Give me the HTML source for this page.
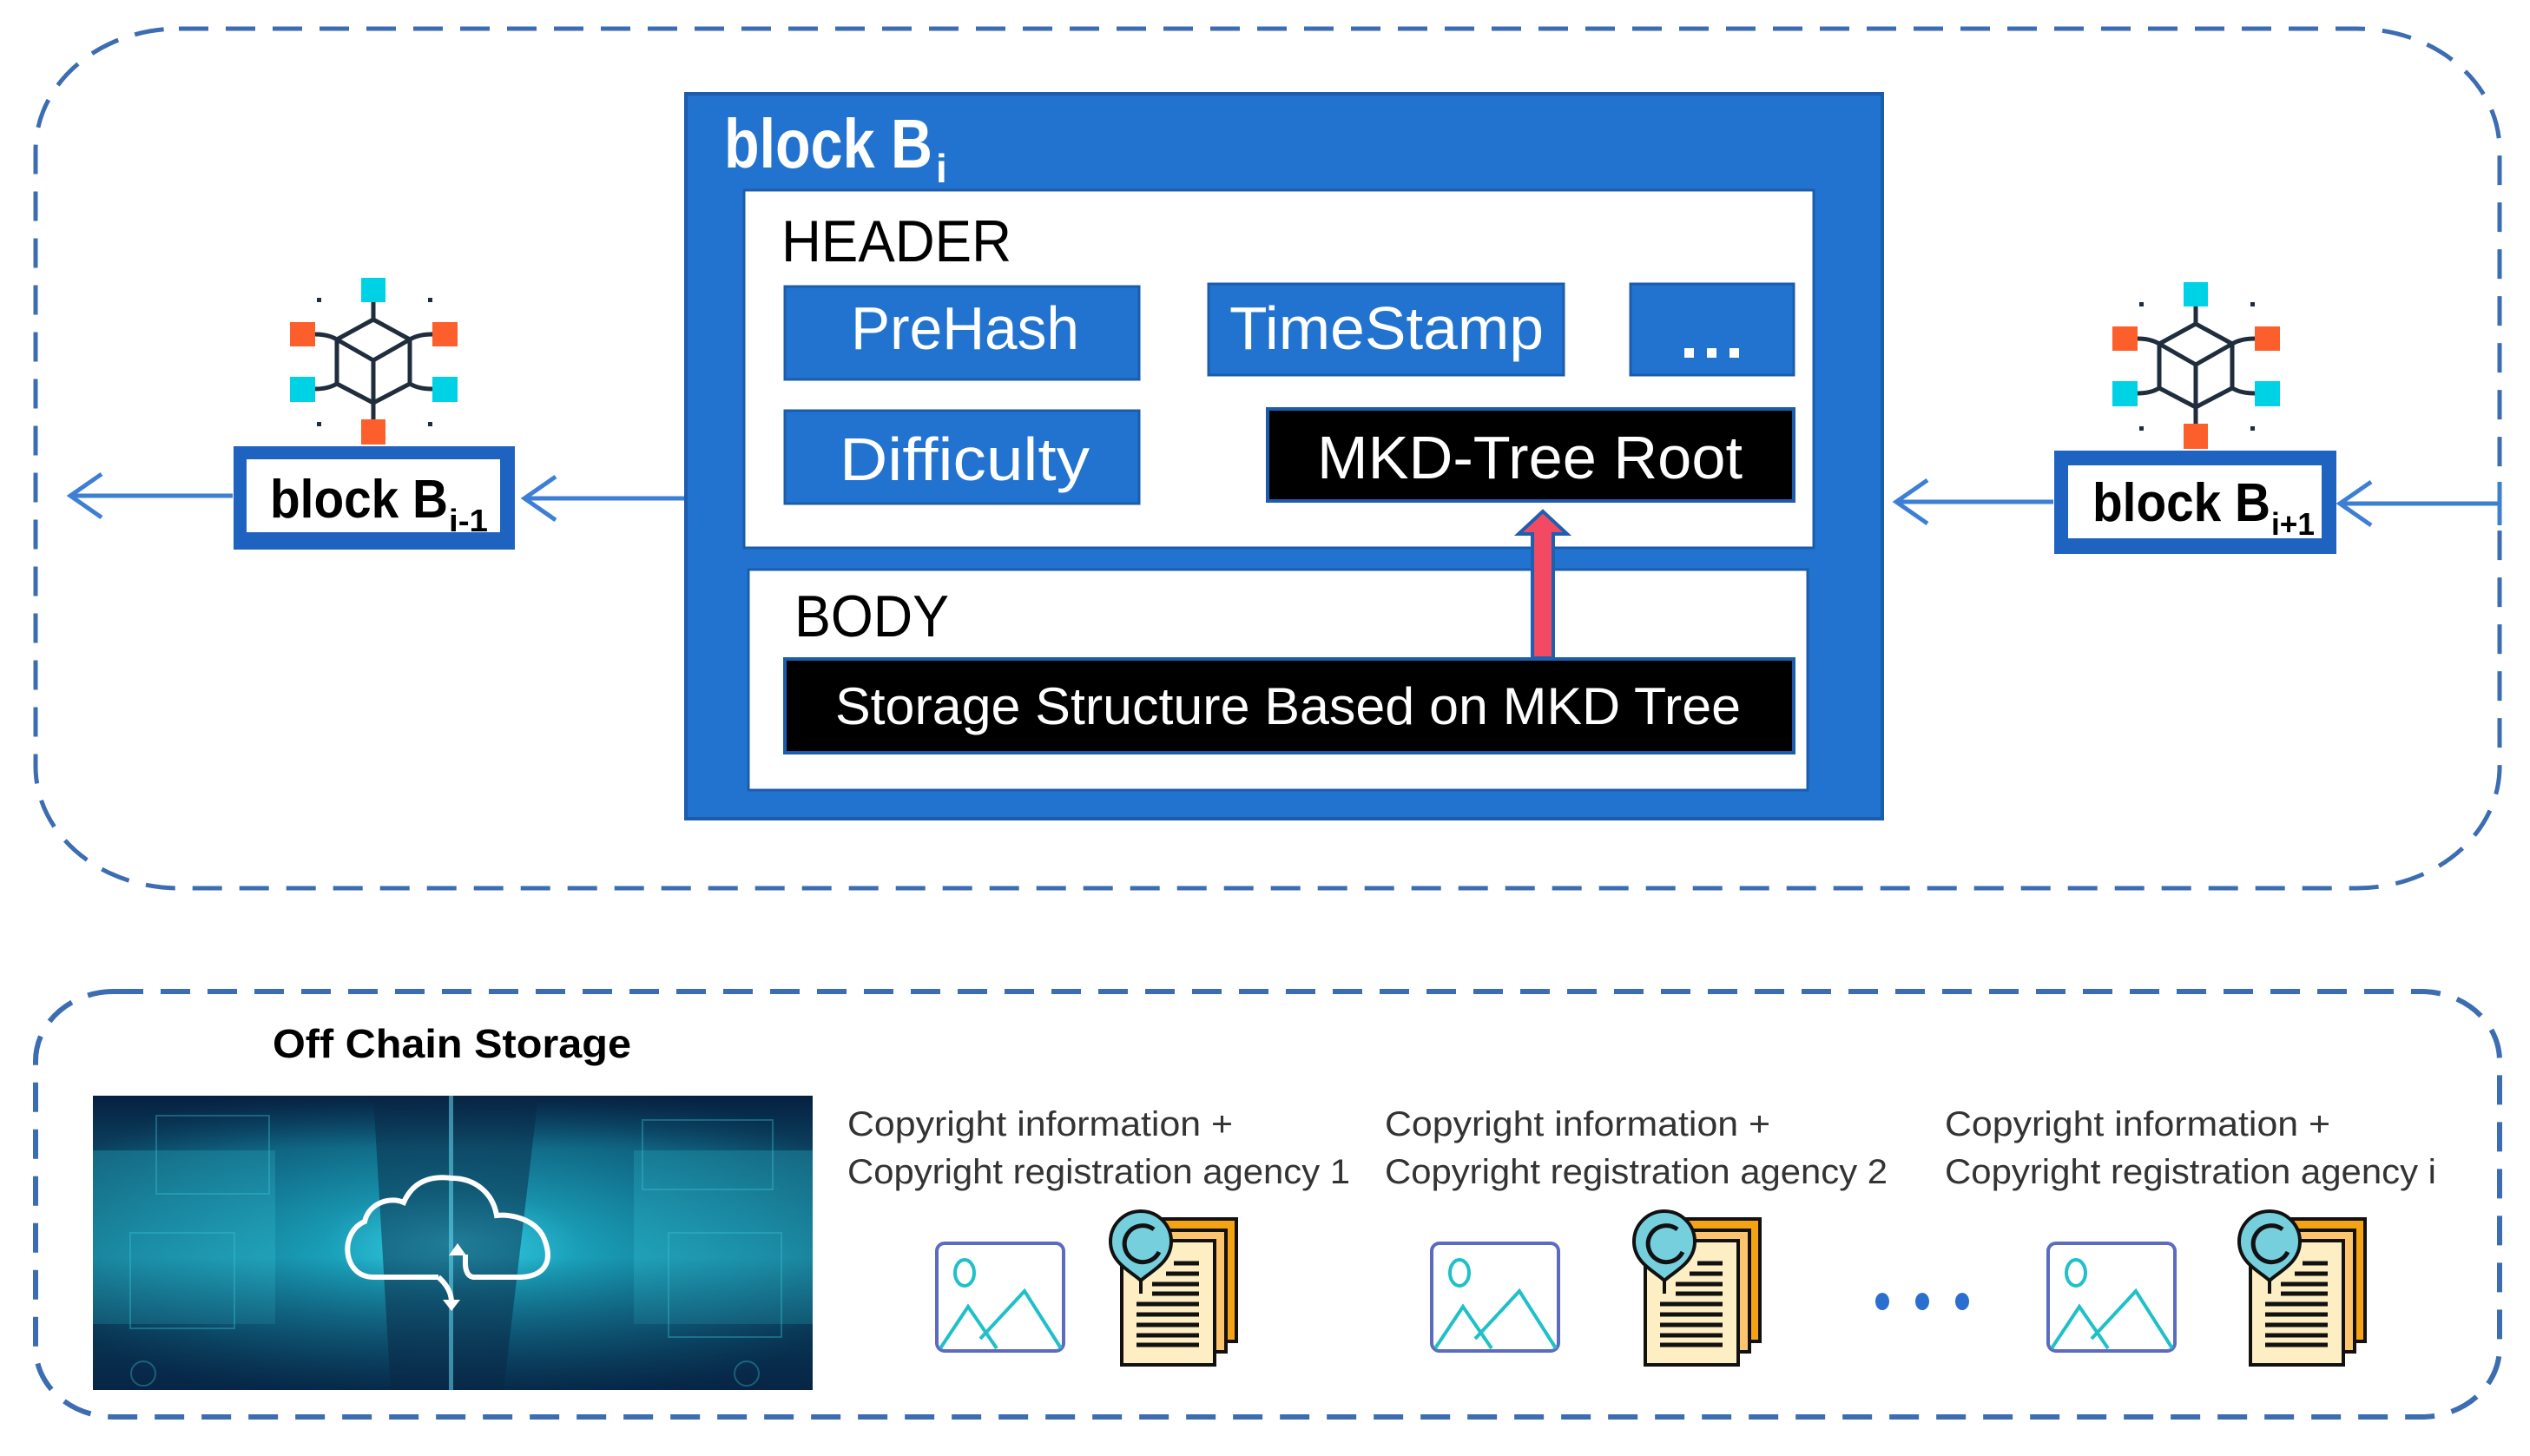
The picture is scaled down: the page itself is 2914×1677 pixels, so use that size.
<!DOCTYPE html>
<html><head><meta charset="utf-8"><style>html,body{margin:0;padding:0;background:#fff}svg{display:block}</style></head>
<body>
<svg width="2914" height="1677" viewBox="0 0 2914 1677" xmlns="http://www.w3.org/2000/svg" font-family="'Liberation Sans', sans-serif">
<defs>
<radialGradient id="glow" cx="0.5" cy="0.5" r="0.6">
<stop offset="0" stop-color="#38d8f0"/><stop offset="0.3" stop-color="#1a9fb8"/><stop offset="0.7" stop-color="#117490"/><stop offset="1" stop-color="#0b4a66"/>
</radialGradient>
<linearGradient id="dark" x1="0" y1="0" x2="0" y2="1"><stop offset="0" stop-color="#06183a" stop-opacity="0.85"/><stop offset="0.18" stop-color="#06183a" stop-opacity="0.2"/><stop offset="0.55" stop-color="#06183a" stop-opacity="0"/><stop offset="1" stop-color="#06183a" stop-opacity="0.75"/></linearGradient>
<g id="hub">
<rect x="416" y="320" width="28" height="28" fill="#00d2e6"/>
<rect x="334" y="371" width="29" height="28" fill="#fc5f2c"/>
<rect x="498" y="371" width="29" height="28" fill="#fc5f2c"/>
<rect x="334" y="434" width="29" height="29" fill="#00d2e6"/>
<rect x="498" y="434" width="29" height="29" fill="#00d2e6"/>
<rect x="416" y="483" width="28" height="29" fill="#fc5f2c"/>
<g fill="#1f2d3d"><rect x="365" y="343" width="5" height="5"/><rect x="493" y="343" width="5" height="5"/><rect x="365" y="486" width="5" height="5"/><rect x="493" y="486" width="5" height="5"/></g>
<g fill="none" stroke="#1f2d3d" stroke-width="5" stroke-linejoin="round">
<path d="M430,368 L472,391 L472,442 L430,464 L388,442 L388,391 Z"/>
<path d="M388,391 L430,415 L472,391 M430,415 L430,464"/>
<path d="M430,348 L430,368 M430,464 L430,483 M388,391 Q378,385 363,385 M472,391 Q482,385 498,385 M388,442 Q378,448 363,448 M472,442 Q482,448 498,448"/>
</g>
</g>
<g id="doc">
<rect x="1337" y="1404" width="88" height="141" fill="#f5a313" stroke="#111" stroke-width="4"/>
<rect x="1313" y="1417" width="100" height="140" fill="#fdc46e" stroke="#111" stroke-width="4"/>
<rect x="1293" y="1429" width="107" height="143" fill="#fdefc3" stroke="#111" stroke-width="4"/>
<g stroke="#111" stroke-width="5">
<line x1="1353" y1="1455" x2="1382" y2="1455"/><line x1="1344" y1="1467" x2="1382" y2="1467"/>
<line x1="1328" y1="1479" x2="1382" y2="1479"/><line x1="1328" y1="1490" x2="1382" y2="1490"/>
<line x1="1310" y1="1502" x2="1382" y2="1502"/><line x1="1310" y1="1514" x2="1382" y2="1514"/>
<line x1="1310" y1="1526" x2="1382" y2="1526"/><line x1="1310" y1="1538" x2="1382" y2="1538"/>
<line x1="1310" y1="1549" x2="1382" y2="1549"/>
</g>
<line x1="1315" y1="1470" x2="1315" y2="1490" stroke="#111" stroke-width="4"/>
<path d="M1315,1475 C1305,1465 1280,1455 1280,1430 A35,35 0 1 1 1350,1430 C1350,1455 1325,1465 1315,1475 Z" fill="#76cfdc" stroke="#111" stroke-width="4"/>
<path d="M1330,1416 A21,21 0 1 0 1336,1442" fill="none" stroke="#111" stroke-width="5"/>
</g>
<g id="pic">
<rect x="1079" y="1432" width="146" height="124" rx="9" fill="#fff" stroke="#5b6cbf" stroke-width="4"/>
<ellipse cx="1111" cy="1466" rx="11" ry="15" fill="none" stroke="#1fc0c8" stroke-width="4"/>
<path d="M1083,1553 L1115,1505 L1148,1553 M1129,1542 L1180,1487 L1222,1553" fill="none" stroke="#1fc0c8" stroke-width="4"/>
</g>
</defs>

<rect x="41" y="33" width="2838" height="990" rx="165" ry="140" fill="none" stroke="#3c6db2" stroke-width="5" stroke-dasharray="34,20"/>
<rect x="41" y="1142" width="2838" height="490" rx="90" ry="80" fill="none" stroke="#3c6db2" stroke-width="6" stroke-dasharray="34,20"/>

<rect x="790" y="108" width="1378" height="835" fill="#2273cf" stroke="#1c5cad" stroke-width="4"/>
<text x="834" y="193" font-size="80" font-weight="bold" fill="#fff" textLength="240" lengthAdjust="spacingAndGlyphs">block B</text>
<text x="1078" y="210" font-size="46" font-weight="bold" fill="#fff">i</text>
<rect x="857" y="219" width="1232" height="412" fill="#fff" stroke="#1c5cad" stroke-width="3"/>
<rect x="862" y="656" width="1220" height="254" fill="#fff" stroke="#1c5cad" stroke-width="3"/>
<text x="900" y="301" font-size="68" fill="#000" textLength="265" lengthAdjust="spacingAndGlyphs">HEADER</text>
<text x="915" y="733" font-size="68" fill="#000" textLength="178" lengthAdjust="spacingAndGlyphs">BODY</text>

<rect x="904" y="330" width="408" height="107" fill="#2273cf" stroke="#1c5cad" stroke-width="3"/>
<text x="980" y="402" font-size="70" fill="#fff" textLength="263" lengthAdjust="spacingAndGlyphs">PreHash</text>
<rect x="1392" y="327" width="409" height="105" fill="#2273cf" stroke="#1c5cad" stroke-width="3"/>
<text x="1416" y="402" font-size="70" fill="#fff" textLength="362" lengthAdjust="spacingAndGlyphs">TimeStamp</text>
<rect x="1878" y="327" width="188" height="105" fill="#2273cf" stroke="#1c5cad" stroke-width="3"/>
<g fill="#fff"><rect x="1940" y="401" width="11" height="11"/><rect x="1966" y="401" width="11" height="11"/><rect x="1992" y="401" width="11" height="11"/></g>
<rect x="904" y="473" width="408" height="107" fill="#2273cf" stroke="#1c5cad" stroke-width="3"/>
<text x="967" y="553" font-size="70" fill="#fff" textLength="288" lengthAdjust="spacingAndGlyphs">Difficulty</text>
<rect x="1460" y="471" width="606" height="106" fill="#000" stroke="#1c5cad" stroke-width="4"/>
<text x="1517" y="551" font-size="70" fill="#fff" textLength="490" lengthAdjust="spacingAndGlyphs">MKD-Tree Root</text>
<rect x="904" y="759" width="1162" height="108" fill="#000" stroke="#1c5cad" stroke-width="4"/>
<text x="962" y="834" font-size="60" fill="#fff" textLength="1043" lengthAdjust="spacingAndGlyphs">Storage Structure Based on MKD Tree</text>

<path d="M1765,758 L1765,615 L1749,615 L1777,589 L1805,615 L1789,615 L1789,758 Z" fill="#f24a63" stroke="#1f5fb0" stroke-width="4"/>

<use href="#hub"/>
<rect x="269" y="514" width="324" height="119" fill="#1f63c0"/>
<rect x="284" y="529" width="292" height="84" fill="#fff"/>
<text x="311" y="596" font-size="62" font-weight="bold" fill="#000" textLength="205" lengthAdjust="spacingAndGlyphs">block B</text>
<text x="517" y="612" font-size="36" font-weight="bold" fill="#000" textLength="45" lengthAdjust="spacingAndGlyphs">i-1</text>

<use href="#hub" transform="translate(2099,5)"/>
<rect x="2366" y="519" width="325" height="119" fill="#1f63c0"/>
<rect x="2382" y="536" width="292" height="84" fill="#fff"/>
<text x="2410" y="600" font-size="62" font-weight="bold" fill="#000" textLength="205" lengthAdjust="spacingAndGlyphs">block B</text>
<text x="2616" y="616" font-size="36" font-weight="bold" fill="#000" textLength="50" lengthAdjust="spacingAndGlyphs">i+1</text>

<g fill="none" stroke="#3e7fd6" stroke-width="5">
<line x1="788" y1="574" x2="604" y2="574"/><path d="M640,549 L604,574 L640,599"/>
<line x1="268" y1="571" x2="81" y2="571"/><path d="M117,546 L81,571 L117,596"/>
<line x1="2365" y1="578" x2="2184" y2="578"/><path d="M2220,553 L2184,578 L2220,603"/>
<line x1="2879" y1="580" x2="2695" y2="580"/><path d="M2731,555 L2695,580 L2731,605"/>
<line x1="2879" y1="555" x2="2879" y2="605"/>
</g>

<text x="314" y="1218" font-size="46" font-weight="bold" fill="#000" textLength="413" lengthAdjust="spacingAndGlyphs">Off Chain Storage</text>
<rect x="107" y="1262" width="829" height="339" fill="url(#glow)"/>
<g fill="#2bb3c8" opacity="0.45">
<rect x="107" y="1325" width="210" height="200"/><rect x="730" y="1325" width="206" height="200"/>
</g>
<rect x="107" y="1262" width="829" height="339" fill="url(#dark)"/>
<g fill="#0a2644" opacity="0.5">
<path d="M430,1262 L620,1262 L580,1601 L450,1601 Z"/>
</g>
<g fill="none" stroke="#3cc6d8" stroke-width="2" opacity="0.35">
<rect x="180" y="1285" width="130" height="90"/><rect x="150" y="1420" width="120" height="110"/><rect x="740" y="1290" width="150" height="80"/><rect x="770" y="1420" width="130" height="120"/>
<circle cx="165" cy="1582" r="14"/><circle cx="860" cy="1582" r="14"/>
</g>
<rect x="517" y="1262" width="5" height="339" fill="#6fe8ff" opacity="0.5"/>
<path d="M430,1471 C395,1471 390,1420 420,1407 C425,1385 450,1378 465,1385 C478,1355 505,1355 520,1357 C548,1357 568,1375 572,1400 C590,1398 620,1405 628,1430 C640,1465 612,1471 600,1471 L545,1471 C538,1470 536,1462 536,1455 L536,1445 M505,1471 L430,1471" fill="none" stroke="#fff" stroke-width="6"/>
<path d="M505,1471 C515,1480 520,1490 520,1500" fill="none" stroke="#fff" stroke-width="6"/>
<path d="M527,1432 L537,1446 L517,1446 Z M510,1497 L530,1497 L520,1510 Z" fill="#fff"/>

<g font-size="40" fill="#333">
<text x="976" y="1308" textLength="444" lengthAdjust="spacingAndGlyphs">Copyright information +</text>
<text x="976" y="1363" textLength="579" lengthAdjust="spacingAndGlyphs">Copyright registration agency 1</text>
<text x="1595" y="1308" textLength="444" lengthAdjust="spacingAndGlyphs">Copyright information +</text>
<text x="1595" y="1363" textLength="579" lengthAdjust="spacingAndGlyphs">Copyright registration agency 2</text>
<text x="2240" y="1308" textLength="444" lengthAdjust="spacingAndGlyphs">Copyright information +</text>
<text x="2240" y="1363" textLength="566" lengthAdjust="spacingAndGlyphs">Copyright registration agency i</text>
</g>

<use href="#pic"/>
<use href="#pic" transform="translate(570,0)"/>
<use href="#pic" transform="translate(1280,0)"/>
<use href="#doc" transform="translate(-1,0)"/>
<use href="#doc" transform="translate(602,0)"/>
<use href="#doc" transform="translate(1299,0)"/>
<g fill="#2a6fd0"><ellipse cx="2168" cy="1499" rx="8" ry="10"/><ellipse cx="2214" cy="1499" rx="8" ry="10"/><ellipse cx="2260" cy="1499" rx="8" ry="10"/></g>
</svg>
</body></html>
